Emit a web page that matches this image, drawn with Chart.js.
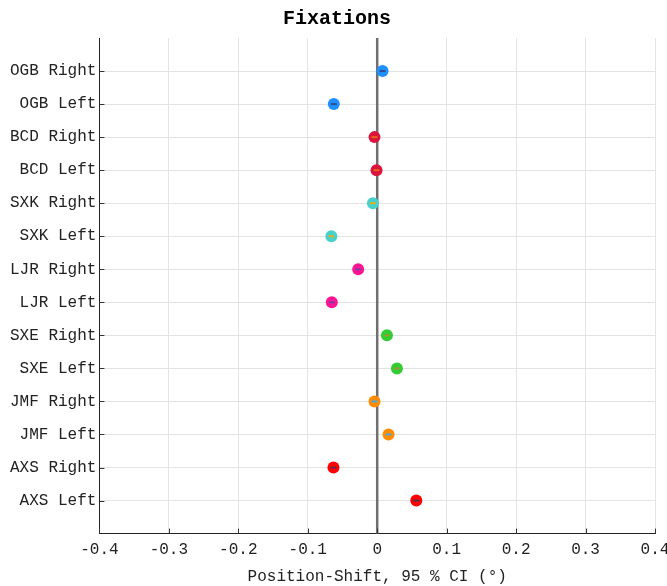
<!DOCTYPE html>
<html>
<head>
<meta charset="utf-8">
<script src="https://cdn.jsdelivr.net/npm/chart.js@4"></script>
<style>
  html, body { margin: 0; padding: 0; background: #fff; }
  #wrap { width: 667px; height: 586px; }
</style>
</head>
<body>
<div id="wrap"><canvas id="myChart" width="667" height="586"></canvas></div>
<script>
const categories = ['OGB Right', 'OGB Left', 'BCD Right', 'BCD Left', 'SXK Right', 'SXK Left',
    'LJR Right', 'LJR Left', 'SXE Right', 'SXE Left', 'JMF Right', 'JMF Left', 'AXS Right', 'AXS Left'];
const shift = [0.0077, -0.0625, -0.0039, -0.0010, -0.0062, -0.0660, -0.0274,
    -0.0654, 0.0140, 0.0284, -0.0039, 0.0163, -0.0630, 0.0563];
const ciLow = [0.0035, -0.0668, -0.0083, -0.0052, -0.0105, -0.0702, -0.0318,
    -0.0697, 0.0098, 0.0242, -0.0083, 0.0120, -0.0673, 0.0518];
const ciHigh = [0.0120, -0.0582, 0.0004, 0.0032, -0.0019, -0.0618, -0.0230,
    -0.0611, 0.0182, 0.0326, 0.0005, 0.0206, -0.0587, 0.0608];
const dotColors = ['#1e90ff', '#1e90ff', '#dc143c', '#dc143c', '#48d1cc', '#48d1cc',
    '#ff1493', '#ff1493', '#32cd32', '#32cd32', '#ff8c00', '#ff8c00', '#ff0000', '#ff0000'];
const ciColors = ['#2f4f8f', '#2f4f8f', '#e8641c', '#e8641c', '#e0b020', '#e0b020',
    '#7a3fa0', '#7a3fa0', '#9a9a3a', '#9a9a3a', '#4aa8e0', '#4aa8e0', '#5a3050', '#5a3050'];
const xTicks = [-0.4, -0.3, -0.2, -0.1, 0, 0.1, 0.2, 0.3, 0.4];

const FONT = "'Liberation Mono', 'Courier New', monospace";

// CI segments, zero line and inward tick marks
const extras = {
    id: 'extras',
    beforeDatasetsDraw(chart) {
        const { ctx, chartArea, scales: { x } } = chart;
        const x0 = x.getPixelForValue(0);
        ctx.save();
        ctx.strokeStyle = '#707070';
        ctx.lineWidth = 2.5;
        ctx.beginPath();
        ctx.moveTo(x0, chartArea.top);
        ctx.lineTo(x0, chartArea.bottom);
        ctx.stroke();
        ctx.restore();
    },
    afterDatasetsDraw(chart) {
        const { ctx, chartArea, scales: { x, y } } = chart;
        ctx.save();
        ctx.lineWidth = 2;
        categories.forEach((c, i) => {
            const py = y.getPixelForValue(i + 1);
            ctx.strokeStyle = ciColors[i];
            ctx.beginPath();
            ctx.moveTo(x.getPixelForValue(ciLow[i]), py);
            ctx.lineTo(x.getPixelForValue(ciHigh[i]), py);
            ctx.stroke();
        });
        ctx.strokeStyle = '#333';
        ctx.lineWidth = 1;
        xTicks.forEach(v => {
            const px = Math.round(x.getPixelForValue(v)) + 0.5;
            ctx.beginPath();
            ctx.moveTo(px, chartArea.bottom);
            ctx.lineTo(px, chartArea.bottom - 5);
            ctx.stroke();
        });
        categories.forEach((c, i) => {
            const py = Math.round(y.getPixelForValue(i + 1)) + 0.5;
            ctx.beginPath();
            ctx.moveTo(chartArea.left, py);
            ctx.lineTo(chartArea.left + 5, py);
            ctx.stroke();
        });
        ctx.restore();
    }
};

const ctx = document.getElementById('myChart').getContext('2d');
const myChart = new Chart(ctx, {
    type: 'scatter',
    data: {
        datasets: [{
            data: shift.map((v, i) => ({ x: v, y: i + 1 })),
            pointRadius: 6,
            pointHoverRadius: 6,
            pointBorderWidth: 0,
            pointBackgroundColor: dotColors,
            pointBorderColor: dotColors
        }]
    },
    options: {
        responsive: false,
        animation: false,
        layout: { padding: { left: 7, right: 0, top: 2, bottom: 0 } },
        plugins: {
            legend: { display: false },
            tooltip: { enabled: false },
            title: {
                display: true,
                text: 'Fixations',
                color: '#000',
                font: { family: FONT, size: 20, weight: 'bold' },
                padding: { top: 5, bottom: 7 }
            }
        },
        scales: {
            x: {
                type: 'linear',
                min: -0.4,
                max: 0.4,
                afterBuildTicks: axis => { axis.ticks = xTicks.map(v => ({ value: v })); },
                // let the last tick label run to the canvas edge
                afterFit: axis => { axis.paddingRight = 12; },
                ticks: {
                    color: '#222',
                    font: { family: FONT, size: 16 },
                    padding: 7,
                    maxRotation: 0,
                    callback: v => (v === 0 ? '0' : (Math.round(v * 10) / 10).toString())
                },
                grid: { color: '#e3e3e3', lineWidth: 1, drawTicks: false },
                border: { display: true, color: '#222', width: 1 },
                title: {
                    display: true,
                    text: 'Position-Shift, 95 % CI (°)',
                    color: '#222',
                    font: { family: FONT, size: 16 },
                    padding: { top: 0, bottom: 0 }
                }
            },
            y: {
                type: 'linear',
                reverse: true,
                min: 0,
                max: 15,
                afterBuildTicks: axis => { axis.ticks = categories.map((c, i) => ({ value: i + 1 })); },
                ticks: {
                    color: '#222',
                    font: { family: FONT, size: 16 },
                    padding: 3,
                    callback: v => categories[v - 1]
                },
                grid: { color: '#e3e3e3', lineWidth: 1, drawTicks: false },
                border: { display: true, color: '#222', width: 1 }
            }
        }
    },
    plugins: [extras]
});
</script>
</body>
</html>
